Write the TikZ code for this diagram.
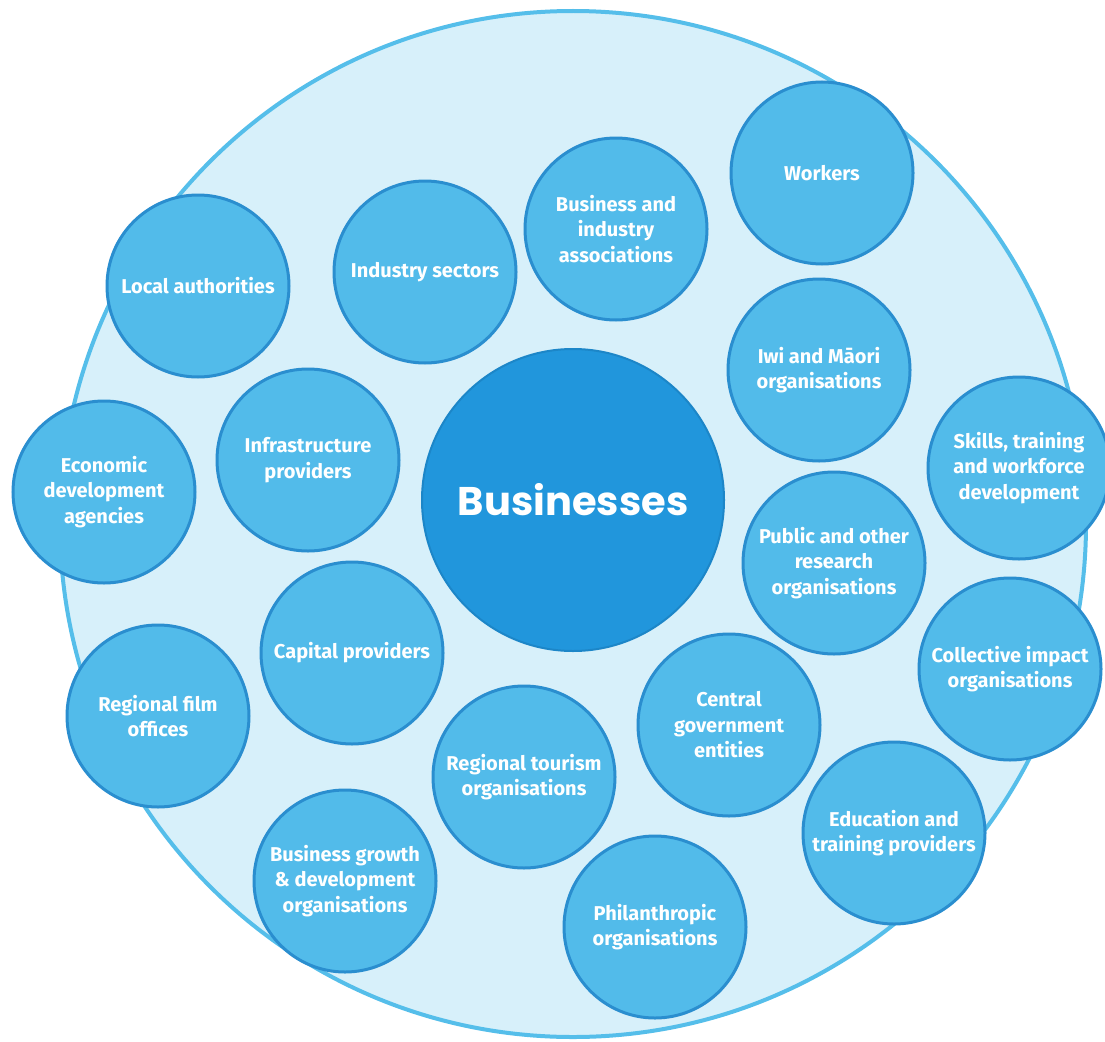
\documentclass[tikz,border=0pt]{standalone}
\usepackage{fontspec}
\setmainfont{Fira Sans}
\newfontfamily\headfont{Poppins}
\usepackage{tikz}
\usetikzlibrary{positioning}
\definecolor{ringfill}{HTML}{D7F0FA}
\definecolor{ringline}{HTML}{55BEEA}
\definecolor{partyfill}{HTML}{52BBEA}
\definecolor{partyline}{HTML}{2A8ECF}
\definecolor{corefill}{HTML}{2196DC}
\definecolor{coreline}{HTML}{1C86C8}

\begin{document}
\begin{tikzpicture}[x=1pt, y=-1pt,
  field/.style={circle, draw=ringline, fill=ringfill, line width=4pt, minimum size=1026pt, inner sep=0pt},
  party/.style={circle, draw=partyline, fill=partyfill, line width=3pt, minimum size=182pt, inner sep=0pt, align=center, text=white, font=\bfseries\fontsize{20}{25.5}\selectfont},
  core/.style={circle, draw=coreline, fill=corefill, line width=2pt, minimum size=302pt, inner sep=0pt, align=center, text=white, font=\headfont\bfseries\fontsize{40}{48}\selectfont}
]
  \useasboundingbox (0,0) rectangle (1105,1041);

  % Outer ring
  \node[field] (ring) at (573,524) {};

  % Centre
  \node[core] (business) at (573,500) {Businesses};

  % Top row
  \node[party] (workers)   at (822,173) {Workers};
  \node[party] (assoc)     at (616,229) {Business and\\industry\\associations};
  \node[party] (sectors)   at (425,272) {Industry sectors};
  \node[party] (local)     at (198,286) {Local authorities};

  % Right side
  \node[party] (iwi)       at (819,370) {Iwi and M\=aori\\organisations};
  \node[party] (skills)    at (1019,468) {Skills, training\\and workforce\\development};
  \node[party] (research)  at (834,563) {Public and other\\research\\organisations};
  \node[party] (impact)    at (1010,669) {Collective impact\\organisations};
  \node[party] (central)   at (729,725) {Central\\government\\entities};
  \node[party] (education) at (894,833) {Education and\\training providers};

  % Left side
  \node[party] (economic)  at (104,492) {Economic\\development\\agencies};
  \node[party] (infra)     at (308,460) {Infrastructure\\providers};
  \node[party] (capital)   at (352,653) {Capital providers};
  \node[party] (film)      at (158,716) {Regional film\\offices};

  % Bottom row
  \node[party] (tourism)   at (524,777) {Regional tourism\\organisations};
  \node[party] (growth)    at (345,881) {Business growth\\\& development\\organisations};
  \node[party] (philan)    at (655,927) {Philanthropic\\organisations};
\end{tikzpicture}
\end{document}
